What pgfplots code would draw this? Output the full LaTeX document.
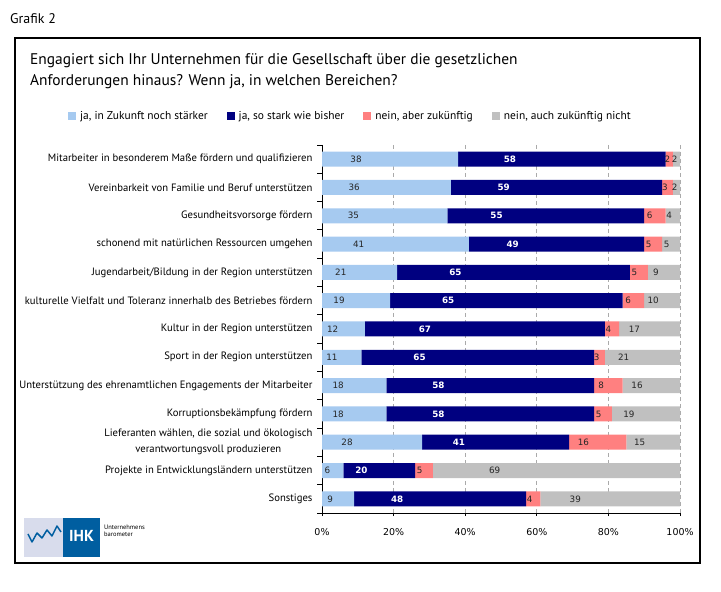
\documentclass[border=0pt]{standalone}
\usepackage{fontspec}
\setmainfont{PT Sans}
\newfontfamily\numfont{DejaVu Sans}
\usepackage{pgfplots}
\pgfplotsset{compat=1.18}
\usepackage{pgfplotstable}
\definecolor{lblue}{RGB}{166,202,240}
\definecolor{navy}{RGB}{0,0,128}
\definecolor{lred}{RGB}{255,128,128}
\definecolor{lgray}{RGB}{192,192,192}
\definecolor{gridc}{RGB}{170,170,170}
\definecolor{ihkblue}{RGB}{0,94,160}
\definecolor{ihklight}{RGB}{216,220,236}

\pgfplotstableread{
row a b c d
0 38 58 2 2
1 36 59 3 2
2 35 55 6 4
3 41 49 5 5
4 21 65 5 9
5 19 65 6 10
6 12 67 4 17
7 11 65 3 21
8 18 58 8 16
9 18 58 5 19
10 28 41 16 15
11 6 20 5 69
12 9 48 4 39
}\data

\pgfplotsset{
  calc offset/.code={%
    \pgfkeys{/pgf/fpu=true,/pgf/fpu/output format=fixed}%
    \pgfmathsetmacro\lbloffset{\pgfplotspointmeta*0.895}%
    \pgfkeys{/pgf/fpu=false}%
  }
}

\begin{document}
\begin{tikzpicture}[x=1bp,y=1bp]
\useasboundingbox (0,0) rectangle (721,592);
\draw[line width=1.1bp] (15,29) rectangle (700,554);
\node[anchor=base west, inner sep=0, font=\fontsize{14}{15}\selectfont] at (10,568) {Grafik 2};
\node[anchor=base west, inner sep=0, font=\fontsize{15.5}{17}\selectfont] at (30,527) {Engagiert sich Ihr Unternehmen für die Gesellschaft über die gesetzlichen};
\node[anchor=base west, inner sep=0, font=\fontsize{15.5}{17}\selectfont] at (30,506) {Anforderungen hinaus? Wenn ja, in welchen Bereichen?};
% logo
\fill[ihklight] (24,35) rectangle (63,74);
\fill[ihkblue] (63,35) rectangle (100,74);
\node[text=white, font=\bfseries\fontsize{16}{16}\selectfont] at (81.5,56) {IHK};
\draw[ihkblue, line width=1.5bp, line join=round] (28,58) -- (32,50) -- (37,59) -- (42,54) -- (47,62) -- (52,56) -- (57,66) -- (61,60);
\node[anchor=west, inner sep=0, align=left, font=\fontsize{6.5}{7}\selectfont] at (104,61) {Unternehmens\\barometer};

\begin{axis}[
  at={(322bp,79bp)}, anchor=south west,
  scale only axis, width=358bp, height=368bp,
  xbar stacked, bar width=15bp,
  xmin=0, xmax=100, ymin=-0.5, ymax=12.5, y dir=reverse,
  enlargelimits=false,
  axis x line*=bottom, axis y line*=left,
  axis line style={black, line width=0.9bp},
  xtick={0,20,...,100},
  xticklabels={0\%,20\%,40\%,60\%,80\%,100\%},
  xticklabel style={font=\numfont\fontsize{9.5}{11}\selectfont, yshift=-9bp},
  tick align=outside, major tick length=3bp,
  x tick style={black, line width=0.9bp},
  xmajorgrids, grid style={dash pattern=on 4bp off 3bp, gridc, line width=0.7bp},
  ytick={0,...,12},
  yticklabels={
    Mitarbeiter in besonderem Maße fördern und qualifizieren,
    Vereinbarkeit von Familie und Beruf unterstützen,
    Gesundheitsvorsorge fördern,
    schonend mit natürlichen Ressourcen umgehen,
    Jugendarbeit/Bildung in der Region unterstützen,
    kulturelle Vielfalt und Toleranz innerhalb des Betriebes fördern,
    Kultur in der Region unterstützen,
    Sport in der Region unterstützen,
    Unterstützung des ehrenamtlichen Engagements der Mitarbeiter,
    Korruptionsbekämpfung fördern,
    {Lieferanten wählen, die sozial und ökologisch\\verantwortungsvoll produzieren},
    Projekte in Entwicklungsländern unterstützen,
    Sonstiges},
  yticklabel style={font=\fontsize{10.7}{16}\selectfont, align=center, xshift=-3bp},
  y tick style={draw=none},
  extra y ticks={-0.5,0.5,...,12.5},
  extra y tick labels={},
  extra y tick style={y tick style={draw=black, line width=0.9bp}, major tick length=5bp, tick align=outside},
  point meta=explicit,
  nodes near coords={\pgfmathprintnumber{\pgfplotspointmeta}},
  every node near coord/.append style={/pgfplots/calc offset, anchor=center, xshift={-\lbloffset bp}, inner sep=0pt, font=\numfont\fontsize{8.8}{10}\selectfont, text=black!85},
  /pgf/number format/assume math mode=true,
  legend columns=4,
  legend image code/.code={\fill[#1] (0bp,-4bp) rectangle (8bp,4bp);},
  legend style={at={(-0.7095,1.0788)}, anchor=west, draw=none, fill=none, inner sep=0pt,
    font=\fontsize{11.5}{13}\selectfont,
    /tikz/every even column/.append style={column sep=17bp},
    /tikz/every odd column/.append style={column sep=2bp}},
]
\addplot[fill=lblue, draw=none] table[x=a, y=row, meta=a] {\data};
\addplot[fill=navy, draw=none, every node near coord/.append style={text=white, font=\numfont\bfseries\fontsize{8.8}{10}\selectfont}] table[x=b, y=row, meta=b] {\data};
\addplot[fill=lred, draw=none] table[x=c, y=row, meta=c] {\data};
\addplot[fill=lgray, draw=none] table[x=d, y=row, meta=d] {\data};
\legend{ja{,} in Zukunft noch stärker, ja{,} so stark wie bisher, nein{,} aber zukünftig, nein{,} auch zukünftig nicht}
\end{axis}
\end{tikzpicture}
\end{document}
